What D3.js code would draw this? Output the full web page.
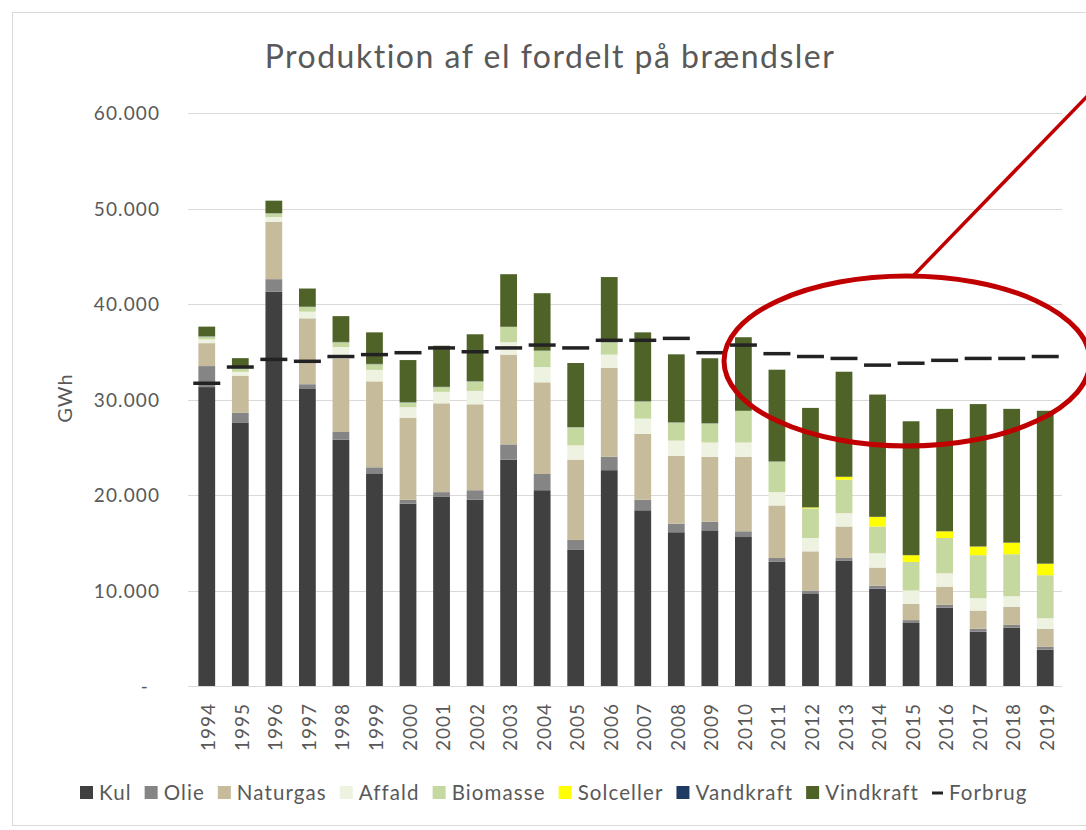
<!DOCTYPE html>
<html>
<head>
<meta charset="utf-8">
<script src="https://cdn.jsdelivr.net/npm/d3@7"></script>
<style>
  html, body { margin: 0; padding: 0; background: #fff; }
  svg { display: block; }
  text { font-family: Lato, "Open Sans", sans-serif; fill: #595959; }
</style>
</head>
<body>
<svg id="chart" width="1086" height="830"></svg>
<script>
const years = ["1994","1995","1996","1997","1998","1999","2000","2001","2002","2003","2004","2005","2006","2007","2008","2009","2010","2011","2012","2013","2014","2015","2016","2017","2018","2019"];
const seriesNames = ["Kul","Olie","Naturgas","Affald","Biomasse","Solceller","Vandkraft","Vindkraft"];
const kul       = [31300,27600,41300,31100,25800,22200,19100,19800,19500,23700,20500,14300,22600,18400,16100,16300,15600,13000,9700,13100,10200,6600,8200,5700,6100,3800];
const olie      = [2200,1000,1300,500,800,700,400,500,1000,1600,1700,1000,1400,1100,900,900,600,400,300,300,300,300,300,300,300,300];
const naturgas  = [2400,3900,6000,6900,7700,9000,8600,9300,9000,9400,9600,8400,9300,6900,7100,6800,7800,5500,4100,3300,1900,1700,1900,1900,1900,1900];
const affald    = [400,400,500,700,1200,1200,1100,1200,1400,1300,1600,1500,1400,1600,1600,1500,1500,1400,1400,1400,1500,1400,1400,1300,1100,1100];
const biomasse  = [300,400,400,500,500,600,500,500,1000,1600,1700,1900,1300,1800,1900,2000,3300,3200,3100,3500,2800,3000,3700,4500,4400,4500];
const solceller = [0,0,0,0,0,0,0,0,0,0,0,0,0,0,0,0,0,0,100,300,1000,700,700,900,1200,1200];
const vandkraft = [30,30,20,20,30,30,30,30,30,20,30,20,20,30,30,20,20,20,20,10,20,20,20,20,20,20];
const vindkraft = [1000,1000,1300,1900,2700,3300,4400,4300,4900,5500,6000,6700,6800,7200,7100,6800,7700,9600,10400,11000,12800,14000,12800,14900,14000,16000];
const forbrug   = [31700,33400,34200,34000,34500,34700,34900,35400,35000,35400,35700,35400,36200,36200,36400,34900,35700,34800,34500,34300,33600,33800,34100,34300,34300,34500];
const yTicks = [0,10000,20000,30000,40000,50000,60000];
const yTickLabels = ["-","10.000","20.000","30.000","40.000","50.000","60.000"];
const colors = ["#404040","#858585","#c6bb9b","#eef2e0","#c5d89f","#ffff00","#1f3b63","#4f6228"];
const forbrugColor = "#222222";

const seriesValues = [kul,olie,naturgas,affald,biomasse,solceller,vandkraft,vindkraft];
const table = years.map((y,i) => {
  const row = {year: y};
  seriesNames.forEach((n,k) => row[n] = seriesValues[k][i]);
  return row;
});

const svg = d3.select("#chart");

// chart frame
svg.append("rect").attr("x",12.5).attr("y",12.5).attr("width",1100).attr("height",813)
  .attr("fill","#fff").attr("stroke","#d9d9d9").attr("stroke-width",1);

const x = d3.scaleBand().domain(years).range([190,1062]).paddingInner(0.5).paddingOuter(0.25);
const y = d3.scaleLinear().domain([0,60000]).range([686,113]);

// gridlines
svg.append("g").selectAll("line").data(yTicks.slice(1)).join("line")
  .attr("x1",188).attr("x2",1062)
  .attr("y1",d=>Math.round(y(d))+0.5).attr("y2",d=>Math.round(y(d))+0.5)
  .attr("stroke","#d9d9d9").attr("stroke-width",1);

// y axis labels
const yAxis = d3.axisLeft(y).tickValues(yTicks).tickFormat((d,i)=>yTickLabels[i]).tickSize(0).tickPadding(0);
const yg = svg.append("g").attr("transform","translate(160,0)").call(yAxis);
yg.select(".domain").remove();
yg.selectAll("text").style("font-size","19px").style("letter-spacing","1.1px").attr("fill","#595959")
  .attr("dy","0.35em");
yg.selectAll(".tick").filter(d=>d===0).select("text").attr("transform","translate(-11,0)");

// stacked bars
const stack = d3.stack().keys(seriesNames);
const stacked = stack(table);
svg.append("g").selectAll("g").data(stacked).join("g")
  .attr("fill",(d,i)=>colors[i])
  .selectAll("rect").data(d=>d).join("rect")
  .attr("x",d=>x(d.data.year))
  .attr("width",x.bandwidth())
  .attr("y",d=>y(d[1]))
  .attr("height",d=>Math.max(0,y(d[0])-y(d[1])));

// x axis
const xAxis = d3.axisBottom(x).tickSize(0).tickPadding(0);
const xg = svg.append("g").attr("transform","translate(0,686)").call(xAxis);
xg.select(".domain").attr("stroke","#d9d9d9").attr("d","M188,0.5H1062");
xg.selectAll("text").style("font-size","19px").style("letter-spacing","1px")
  .attr("text-anchor","end").attr("dy",null).attr("y",0)
  .attr("dominant-baseline","central")
  .attr("transform","translate(1,17) rotate(-90)");

// Forbrug markers (dash markers)
const mw = 27;
svg.append("g").selectAll("line").data(forbrug).join("line")
  .attr("x1",(d,i)=>x(years[i])+x.bandwidth()/2-mw/2)
  .attr("x2",(d,i)=>x(years[i])+x.bandwidth()/2+mw/2)
  .attr("y1",d=>y(d)).attr("y2",d=>y(d))
  .attr("stroke",forbrugColor).attr("stroke-width",3.5);

// title
svg.append("text").attr("x",550).attr("y",68).attr("text-anchor","middle")
  .style("font-size","32px").style("letter-spacing","1.5px").text("Produktion af el fordelt på brændsler");

// y axis title
svg.append("text").attr("transform","translate(72,398) rotate(-90)").attr("text-anchor","middle")
  .style("font-size","20px").style("letter-spacing","1px").text("GWh");

// legend
const legendItems = seriesNames.map((n,i)=>({name:n,color:colors[i],type:"rect"}))
  .concat([{name:"Forbrug",color:forbrugColor,type:"line"}]);
const lg = svg.append("g").attr("transform","translate(0,793)");
let lx = 80;
legendItems.forEach(it => {
  const g = lg.append("g");
  if (it.type==="rect") {
    g.append("rect").attr("x",lx).attr("y",-7).attr("width",13).attr("height",13).attr("fill",it.color);
    lx += 19;
  } else {
    g.append("line").attr("x1",lx).attr("x2",lx+11).attr("y1",0).attr("y2",0)
      .attr("stroke",it.color).attr("stroke-width",3);
    lx += 17;
  }
  const t = g.append("text").attr("x",lx).attr("y",0).attr("dy","0.35em")
    .style("font-size","20.5px").style("letter-spacing","1.1px").text(it.name);
  lx += t.node().getComputedTextLength() + 13;
});

// red annotation
svg.append("ellipse").attr("cx",907).attr("cy",361).attr("rx",183).attr("ry",85)
  .attr("fill","none").attr("stroke","#c00000").attr("stroke-width",5);
svg.append("line").attr("x1",913).attr("y1",276).attr("x2",1100).attr("y2",83)
  .attr("stroke","#c00000").attr("stroke-width",3.5);
</script>
</body>
</html>
